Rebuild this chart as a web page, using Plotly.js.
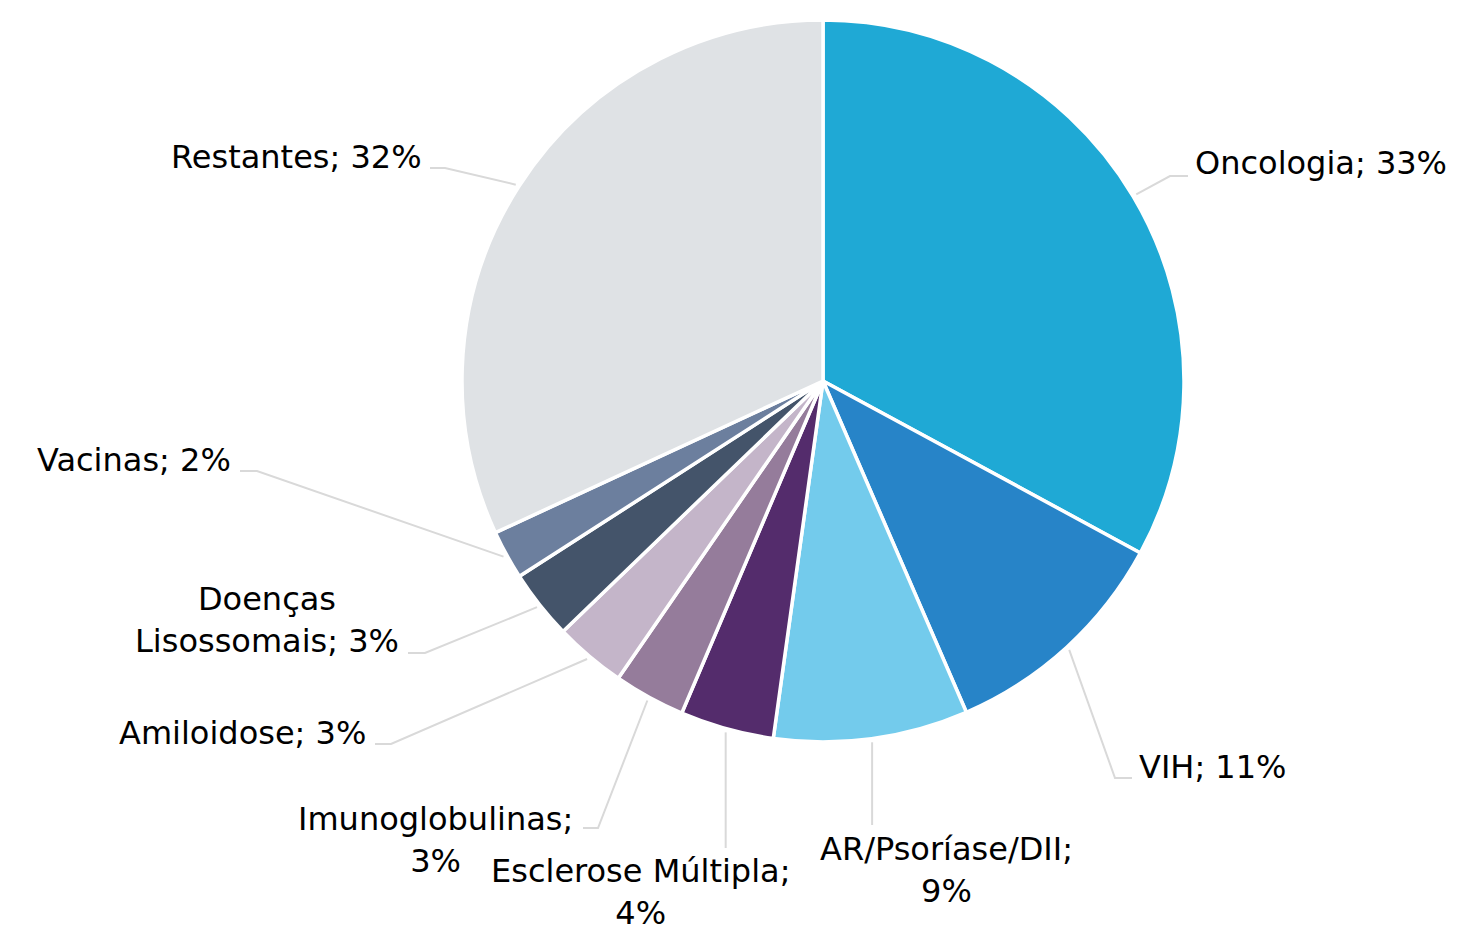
<!DOCTYPE html>
<html><head><meta charset="utf-8">
<script src="https://cdn.plot.ly/plotly-3.0.1.min.js"></script>
<style>body{margin:0;background:#fff}</style></head>
<body><div id="chart" style="width:1460px;height:926px"></div>
<script>
// ---- data ----
const categories = ["Oncologia","VIH","AR/Psoríase/DII","Esclerose Múltipla","Imunoglobulinas","Amiloidose","Doenças Lisossomais","Vacinas","Restantes"];
const shares = [32.9, 10.6, 8.7, 4.2, 3.2, 3.2, 3.1, 2.2, 31.9];
const sliceColors = ["#1FA9D5","#2784C8","#73CBEC","#542C6C","#957C9B","#C4B5C9","#44546A","#6C7F9E","#DFE2E5"];

// ---- label layout (pixels) ----
const W = 1460, H = 926, CX = 823, CY = 381, R = 361;
const labelLayout = [
  {x:1193, y:163, xa:'left',  brk:'none',  end:[1188,176], hook:-18},
  {x:1137, y:767, xa:'left',  brk:'none',  end:[1132,778], hook:-17},
  {x:1075, y:870, xa:'right', brk:'after', end:[null,825], hook:0},
  {x:792,  y:892, xa:'right', brk:'after', end:[null,848], hook:0},
  {x:575,  y:840, xa:'right', brk:'after', end:[583,828],  hook:15},
  {x:368,  y:733, xa:'right', brk:'none',  end:[375,744],  hook:16},
  {x:401,  y:620, xa:'right', brk:'space', end:[408,653],  hook:17},
  {x:233,  y:460, xa:'right', brk:'none',  end:[240,471],  hook:17},
  {x:424,  y:157, xa:'right', brk:'none',  end:[430,168],  hook:15}
];

const total = shares.reduce((a,b)=>a+b,0);
const px = v => v / W, py = v => 1 - v / H;

const annotations = [], shapes = [];
let cum = 0;
categories.forEach((name, i) => {
  const frac = shares[i] / total;
  const mid = (cum + frac / 2) * 2 * Math.PI;
  cum += frac;
  const pct = Math.round(frac * 100) + '%';
  const L = labelLayout[i];
  let text;
  if (L.brk === 'after') text = name + ';<br>' + pct;
  else if (L.brk === 'space') text = name.replace(' ', '<br>') + '; ' + pct;
  else text = name + '; ' + pct;
  annotations.push({
    x: px(L.x), y: py(L.y), xref:'paper', yref:'paper',
    xanchor: L.xa, yanchor:'middle', align:'center', showarrow:false,
    text: text, font:{family:'DejaVu Sans, sans-serif', size:32, color:'#000'}
  });
  const sx = CX + R * 1.01 * Math.sin(mid), sy = CY - R * 1.01 * Math.cos(mid);
  const ex = L.end[0] === null ? sx : L.end[0], ey = L.end[1];
  const elx = ex + L.hook;
  shapes.push({
    type:'path', xref:'paper', yref:'paper',
    path: `M ${px(sx)},${py(sy)} L ${px(elx)},${py(ey)} L ${px(ex)},${py(ey)}`,
    line:{color:'#D9D9D9', width:2}
  });
});

const trace = {
  type:'pie', labels:categories, values:shares, sort:false,
  direction:'clockwise', rotation:0, textinfo:'none', hoverinfo:'label+percent',
  marker:{colors:sliceColors, line:{color:'#ffffff', width:3.5}},
  domain:{x:[(CX-R)/W, (CX+R)/W], y:[1-(CY+R)/H, 1-(CY-R)/H]},
  showlegend:false
};

Plotly.newPlot('chart', [trace], {
  width:W, height:H, margin:{l:0,r:0,t:0,b:0},
  paper_bgcolor:'#fff', showlegend:false,
  annotations: annotations, shapes: shapes
}, {displayModeBar:false, staticPlot:true});
</script></body></html>
